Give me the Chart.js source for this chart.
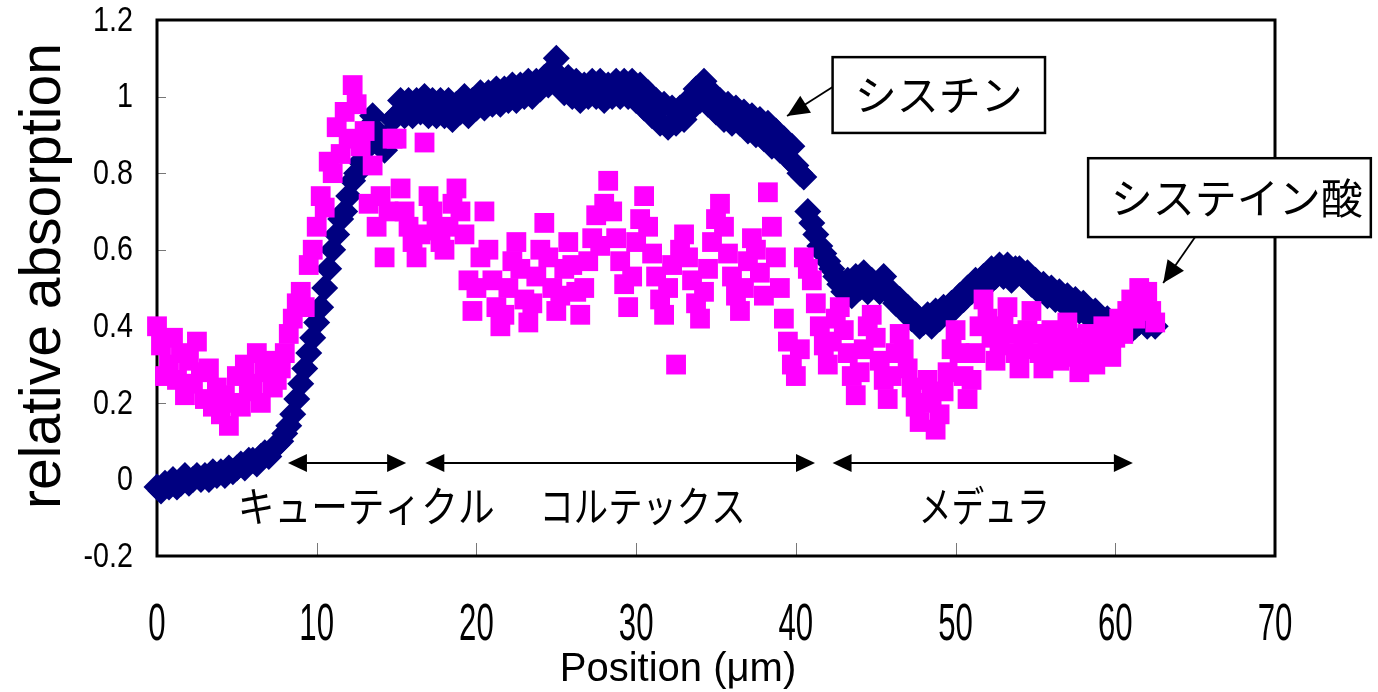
<!DOCTYPE html>
<html lang="ja">
<head>
<meta charset="utf-8">
<title>relative absorption</title>
<script src="https://cdn.jsdelivr.net/npm/chart.js@4/dist/chart.umd.min.js"></script>
<style>
  html, body { margin: 0; padding: 0; background: #fff; }
  #wrap { width: 1378px; height: 692px; }
</style>
</head>
<body>
<div id="wrap"><canvas id="chart" width="1378" height="692"></canvas></div>
<script>
// sampling step along the hair section (µm)
const step = 0.25;

const xTicks = [0, 10, 20, 30, 40, 50, 60, 70];
const yTicks = [-0.2, 0, 0.2, 0.4, 0.6, 0.8, 1, 1.2];

// シスチン (cystine), one value every 0.25 µm from 0 to 62.5
const cystine = [
  -0.02, -0.03, -0.01, -0.02,  0.00, -0.02, -0.01, 0.01,
  -0.01, 0.00, 0.01, 0.00,  0.01, 0.00, 0.02, 0.01,
  0.02, 0.01, 0.03, 0.02,  0.03, 0.04, 0.03, 0.05,
  0.05, 0.04, 0.06, 0.07,  0.06, 0.08, 0.09, 0.10,
  0.12, 0.14, 0.17, 0.21,  0.25, 0.29, 0.33, 0.37,
  0.41, 0.45, 0.50, 0.55,  0.60, 0.64, 0.68, 0.70,
  0.74, 0.78, 0.80, 0.83,  0.86, 0.92, 0.95, 0.91,
  0.88, 0.86, 0.90, 0.94,  0.95, 0.99, 0.95, 0.99,
  0.95, 0.99, 0.96, 1.00,  0.95, 0.99, 0.95, 0.99,
  0.95, 0.99, 0.94, 0.98,  0.96, 1.00, 0.95, 0.99,
  0.97, 1.01, 0.97, 1.01,  0.98, 1.02, 0.98, 1.02,
  0.99, 1.03, 0.99, 1.03,  1.00, 1.04, 1.00, 1.04,
  1.02, 1.05, 1.03, 1.07,  1.10, 1.05, 1.01, 1.05,
  1.00, 1.04, 0.99, 1.03,  1.00, 1.04, 1.00, 1.04,
  0.99, 1.03, 1.00, 1.04,  1.00, 1.04, 1.00, 1.04,
  0.99, 1.03, 0.97, 1.01,  0.95, 0.99, 0.93, 0.98,
  0.92, 0.97, 0.93, 0.97,  0.94, 0.99, 0.97, 1.02,
  0.99, 1.04, 0.98, 1.01,  0.96, 0.99, 0.94, 0.98,
  0.93, 0.97, 0.93, 0.96,  0.91, 0.95, 0.90, 0.94,
  0.89, 0.93, 0.87, 0.91,  0.86, 0.89, 0.84, 0.87,
  0.82, 0.80, 0.79, 0.70,  0.67, 0.64, 0.61, 0.59,
  0.57, 0.55, 0.53, 0.51,  0.49, 0.52, 0.48, 0.53,
  0.50, 0.54, 0.49, 0.52,  0.51, 0.49, 0.53, 0.50,
  0.48, 0.46, 0.47, 0.44,  0.45, 0.42, 0.43, 0.40,
  0.41, 0.43, 0.40, 0.44,  0.42, 0.45, 0.43, 0.46,
  0.45, 0.48, 0.47, 0.50,  0.49, 0.52, 0.50, 0.53,
  0.51, 0.55, 0.53, 0.56,  0.53, 0.56, 0.52, 0.55,
  0.55, 0.53, 0.54, 0.51,  0.52, 0.49, 0.51, 0.48,
  0.50, 0.47, 0.49, 0.46,  0.48, 0.45, 0.47, 0.44,
  0.46, 0.43, 0.42, 0.44,  0.42, 0.40, 0.42, 0.39,
  0.41, 0.39, 0.40, 0.41,  0.39, 0.40, 0.41, 0.42,
  0.40, 0.41, 0.40
];

// システイン酸 (cysteic acid), same positions
const cysteicAcid = [
  0.40, 0.35, 0.27, 0.30,  0.37, 0.26, 0.33, 0.22,
  0.31, 0.25, 0.36, 0.28,  0.21, 0.29, 0.19, 0.24,
  0.17, 0.22, 0.14, 0.20,  0.27, 0.19, 0.30, 0.23,
  0.25, 0.33, 0.20, 0.28,  0.31, 0.24, 0.26, 0.29,
  0.33, 0.38, 0.42, 0.46,  0.49, 0.45, 0.56, 0.60,
  0.66, 0.74, 0.71, 0.83,  0.80, 0.92, 0.85, 0.96,
  0.89, 1.03, 0.98, 0.87,  0.91, 0.72, 0.82, 0.66,
  0.74, 0.58, 0.70, 0.89,  0.89, 0.76, 0.70, 0.66,
  0.62, 0.58, 0.64, 0.88,  0.74, 0.70, 0.65, 0.62,
  0.60, 0.66, 0.72, 0.76,  0.70, 0.64, 0.52, 0.44,
  0.50, 0.58, 0.70, 0.60,  0.52, 0.45, 0.40, 0.43,
  0.50, 0.57, 0.62, 0.55,  0.47, 0.41, 0.46, 0.53,
  0.60, 0.67, 0.58, 0.50,  0.44, 0.48, 0.55, 0.62,
  0.56, 0.49, 0.43, 0.50,  0.57, 0.63, 0.69, 0.61,
  0.72, 0.78, 0.70, 0.63,  0.57, 0.51, 0.45, 0.53,
  0.62, 0.68, 0.74, 0.66,  0.59, 0.53, 0.47, 0.43,
  0.50, 0.56, 0.30, 0.60,  0.64, 0.58, 0.52, 0.46,
  0.42, 0.49, 0.55, 0.62,  0.68, 0.72, 0.66, 0.59,
  0.53, 0.48, 0.44, 0.50,  0.57, 0.63, 0.60, 0.54,
  0.48, 0.75, 0.66, 0.58,  0.50, 0.42, 0.36, 0.30,
  0.27, 0.34, 0.58, 0.55,  0.52, 0.46, 0.40, 0.35,
  0.30, 0.36, 0.42, 0.45,  0.39, 0.33, 0.27, 0.22,
  0.28, 0.34, 0.40, 0.43,  0.37, 0.31, 0.26, 0.21,
  0.27, 0.33, 0.38, 0.34,  0.29, 0.24, 0.19, 0.15,
  0.20, 0.26, 0.22, 0.13,  0.17, 0.23, 0.28, 0.34,
  0.39, 0.33, 0.27, 0.21,  0.26, 0.33, 0.40, 0.47,
  0.42, 0.37, 0.31, 0.35,  0.40, 0.45, 0.38, 0.33,
  0.29, 0.34, 0.39, 0.44,  0.38, 0.33, 0.29, 0.34,
  0.39, 0.35, 0.31, 0.36,  0.41, 0.37, 0.32, 0.28,
  0.33, 0.38, 0.34, 0.30,  0.35, 0.40, 0.36, 0.32,
  0.37, 0.42, 0.38, 0.44,  0.47, 0.42, 0.50, 0.45,
  0.49, 0.44, 0.41
];

// hair regions: name, arrow from/to and label centre (µm)
const regionNames = ["キューティクル", "コルテックス", "メデュラ"];
const regionFrom = [8.2, 16.8, 42.3];
const regionTo = [15.6, 41.2, 61.1];
const regionLabelAt = [13.1, 30.4, 51.8];

const latinFont = "'Liberation Sans', Arial, sans-serif";
const jpFont = "'Noto Sans CJK JP', sans-serif";

function toPoints(values) {
  return values.map((v, i) => ({ x: i * step, y: v }));
}

function formatTick(value) {
  return String(Number(value.toFixed(1)));
}

// narrow, tall text like the original spreadsheet font
function fillNarrow(ctx, text, x, y, squeeze) {
  const w = ctx.measureText(text).width;
  ctx.fillText(text, x, y, w * squeeze);
}

function drawArrowHead(ctx, fromX, fromY, toX, toY, len, half) {
  const angle = Math.atan2(toY - fromY, toX - fromX);
  ctx.beginPath();
  ctx.moveTo(toX, toY);
  ctx.lineTo(toX - len * Math.cos(angle) + half * Math.sin(angle), toY - len * Math.sin(angle) - half * Math.cos(angle));
  ctx.lineTo(toX - len * Math.cos(angle) - half * Math.sin(angle), toY - len * Math.sin(angle) + half * Math.cos(angle));
  ctx.closePath();
  ctx.fill();
}

// callout boxes in data units: box corners, text centre, arrow start and tip
const callouts = [
  { text: "シスチン", x1: 42.3, x2: 55.6, y1: 1.103, y2: 0.905, tx: 48.95, ty: 1.004,
    ax: 42.3, ay: 1.025, bx: 39.45, by: 0.949 },
  { text: "システイン酸", x1: 58.3, x2: 76.0, y1: 0.839, y2: 0.633, tx: 67.6, ty: 0.736,
    ax: 65.0, ay: 0.633, bx: 63.0, by: 0.513 },
];

const frame = {
  id: "frame",
  beforeDatasetsDraw(chart) {
    const { ctx, chartArea: a, scales: { x, y } } = chart;
    ctx.save();
    ctx.strokeStyle = "#777";
    ctx.lineWidth = 1;
    xTicks.slice(1, -1).forEach((v) => {
      const px = Math.round(x.getPixelForValue(v)) + 0.5;
      ctx.beginPath();
      ctx.moveTo(px, a.bottom);
      ctx.lineTo(px, a.bottom - 13);
      ctx.stroke();
    });
    yTicks.slice(1, -1).forEach((v) => {
      const py = Math.round(y.getPixelForValue(v)) + 0.5;
      ctx.beginPath();
      ctx.moveTo(a.left, py);
      ctx.lineTo(a.left + 9, py);
      ctx.stroke();
    });
    ctx.strokeStyle = "#000";
    ctx.lineWidth = 3;
    ctx.strokeRect(a.left, a.top, a.right - a.left, a.bottom - a.top);

    // tick labels
    ctx.fillStyle = "#000";
    ctx.font = "52px " + latinFont;
    ctx.textAlign = "center";
    ctx.textBaseline = "middle";
    xTicks.forEach((v) => fillNarrow(ctx, String(v), x.getPixelForValue(v), a.bottom + 70, 0.6));
    ctx.font = "35px " + latinFont;
    ctx.textAlign = "right";
    yTicks.forEach((v) => fillNarrow(ctx, formatTick(v), a.left - 24, y.getPixelForValue(v) + 1, 0.82));
    ctx.restore();
  },
  afterDatasetsDraw(chart) {
    const { ctx, scales: { x, y } } = chart;
    ctx.save();
    ctx.fillStyle = "#000";
    ctx.strokeStyle = "#000";

    // region arrows and names
    const ay = y.getPixelForValue(0.043);
    const ly = y.getPixelForValue(-0.07);
    const labelWidths = [257, 206, 131];
    regionNames.forEach((name, i) => {
      const x1 = x.getPixelForValue(regionFrom[i]);
      const x2 = x.getPixelForValue(regionTo[i]);
      ctx.lineWidth = 2;
      ctx.beginPath();
      ctx.moveTo(x1 + 10, ay);
      ctx.lineTo(x2 - 10, ay);
      ctx.stroke();
      drawArrowHead(ctx, x2, ay, x1, ay, 19, 9);
      drawArrowHead(ctx, x1, ay, x2, ay, 19, 9);
      ctx.font = "42px " + jpFont;
      ctx.textAlign = "center";
      ctx.textBaseline = "middle";
      ctx.fillText(name, x.getPixelForValue(regionLabelAt[i]), ly, labelWidths[i]);
    });

    // callouts
    callouts.forEach((c) => {
      const bx1 = x.getPixelForValue(c.x1);
      const bx2 = x.getPixelForValue(c.x2);
      const by1 = y.getPixelForValue(c.y1);
      const by2 = y.getPixelForValue(c.y2);
      const sx = x.getPixelForValue(c.ax), sy = y.getPixelForValue(c.ay);
      const tx = x.getPixelForValue(c.bx), ty = y.getPixelForValue(c.by);
      ctx.lineWidth = 1.8;
      ctx.beginPath();
      ctx.moveTo(sx, sy);
      ctx.lineTo(tx, ty);
      ctx.stroke();
      drawArrowHead(ctx, sx, sy, tx, ty, 22, 10);
      ctx.fillStyle = "#fff";
      ctx.fillRect(bx1, by1, bx2 - bx1, by2 - by1);
      ctx.lineWidth = 2.5;
      ctx.strokeRect(bx1, by1, bx2 - bx1, by2 - by1);
      ctx.fillStyle = "#000";
      ctx.font = "42px " + jpFont;
      ctx.textAlign = "center";
      ctx.textBaseline = "middle";
      ctx.fillText(c.text, x.getPixelForValue(c.tx), y.getPixelForValue(c.ty));
    });

    // axis titles
    ctx.font = "40px " + latinFont;
    ctx.textAlign = "center";
    ctx.textBaseline = "middle";
    ctx.fillText("Position (\u03bcm)", 678, 670);
    ctx.save();
    ctx.translate(44, 276);
    ctx.rotate(-Math.PI / 2);
    ctx.font = "57px " + latinFont;
    ctx.fillText("relative absorption", 0, 0);
    ctx.restore();

    ctx.restore();
  },
};

new Chart(document.getElementById("chart"), {
  type: "scatter",
  data: {
    datasets: [
      {
        label: "システイン酸",
        data: toPoints(cysteicAcid),
        pointStyle: "rect",
        pointRadius: 14,
        pointBackgroundColor: "#ff00ff",
        pointBorderWidth: 0,
        order: 0,
      },
      {
        label: "シスチン",
        data: toPoints(cystine),
        pointStyle: "rectRot",
        pointRadius: 13.5,
        pointBackgroundColor: "#000080",
        pointBorderWidth: 0,
        order: 1,
      },
    ],
  },
  options: {
    responsive: false,
    animation: false,
    devicePixelRatio: 1,
    clip: false,
    layout: { padding: { left: 0, top: 20, right: 103, bottom: 0 } },
    plugins: { legend: { display: false }, tooltip: { enabled: false } },
    scales: {
      x: {
        type: "linear",
        min: 0,
        max: 70,
        afterBuildTicks: (scale) => { scale.ticks = xTicks.map((v) => ({ value: v })); },
        ticks: { display: false },
        grid: { display: false, drawTicks: false },
        border: { display: false },
        afterFit: (scale) => {
          scale.height = 136;
          scale.paddingLeft = 0;
          scale.paddingRight = 0;
        },
      },
      y: {
        min: -0.2,
        max: 1.2,
        afterBuildTicks: (scale) => { scale.ticks = yTicks.map((v) => ({ value: v })); },
        ticks: { display: false },
        grid: { display: false, drawTicks: false },
        border: { display: false },
        afterFit: (scale) => {
          scale.width = 157;
          scale.paddingTop = 0;
          scale.paddingBottom = 0;
        },
      },
    },
  },
  plugins: [frame],
});
</script>
</body>
</html>
